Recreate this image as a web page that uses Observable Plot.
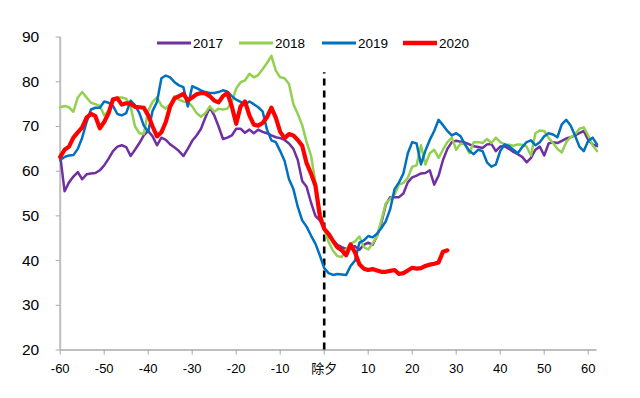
<!DOCTYPE html>
<html>
<head>
<meta charset="utf-8">
<script src="https://cdn.jsdelivr.net/npm/d3@7"></script>
<script src="https://cdn.jsdelivr.net/npm/@observablehq/plot@0.6"></script>
<style>
  html, body { margin: 0; padding: 0; background: #fff; }
  #wrap { position: relative; width: 640px; height: 398px; overflow: hidden; }
  #legend { position: absolute; left: 0; top: 0; }
  svg { display: block; }
</style>
</head>
<body>
<div id="wrap"><div id="chart"></div><svg id="legend" width="640" height="60"></svg></div>
<script>
// ---- data (days relative to 除夕) ----
const days = d3.range(-60, 63);          // -60 … 62
const days2020 = d3.range(-60, 29);      // -60 … 28

const v2017 = [
  63.5, 55.5, 57.5, 58.8, 59.8, 58.2, 59.3, 59.5, 59.6, 60.2,
  61.3, 62.8, 64.5, 65.5, 65.8, 65.4, 63.4, 64.8, 66.3, 68.0,
  69.0, 67.8, 65.8, 67.5, 67.0, 66.0, 65.3, 64.5, 63.4, 65.0,
  66.8, 68.0, 69.5, 72.0, 74.3, 72.5, 70.0, 67.2, 67.5, 68.0,
  69.5, 69.5, 68.6, 69.3, 68.5, 69.3, 68.8, 68.5, 68.0, 67.6,
  67.4, 67.0, 66.2, 65.0, 62.5, 57.8, 56.5, 53.0, 50.0, 49.0,
  47.2, 45.5, 44.5, 43.5, 43.0, 42.6, 43.0, 43.2, 42.4, 43.5,
  44.0, 43.5, 45.5, 48.5, 52.5, 54.2, 54.2, 54.2, 55.0, 57.5,
  58.6, 59.0, 59.5, 59.6, 60.2, 57.0, 59.0, 62.5, 65.0, 66.5,
  66.8, 66.6, 66.4, 66.0, 65.6, 65.4, 65.2, 66.0, 66.1, 64.5,
  65.5, 65.6, 65.0, 64.3, 63.8, 63.2, 62.0, 63.0, 64.8, 65.5,
  63.5, 66.2, 66.5, 66.3, 66.8, 67.3, 67.6, 68.0, 68.5, 69.0,
  67.0, 66.0, 65.6
];
const v2018 = [
  74.3, 74.6, 74.3, 73.3, 76.5, 77.7, 76.5, 75.3, 75.0, 74.6,
  72.5, 73.5, 75.5, 76.5, 76.5, 76.2, 74.5, 70.0, 68.5, 68.3,
  73.5, 75.5, 76.5, 74.7, 74.0, 75.0, 76.8, 76.0, 75.6, 75.5,
  74.5, 73.0, 72.2, 73.0, 74.5, 73.3, 74.0, 73.8, 74.0, 75.5,
  78.5, 79.9, 80.3, 81.8, 81.0, 81.5, 82.8, 84.2, 85.8, 82.5,
  81.0, 80.8, 79.5, 75.0, 72.8, 70.3, 66.5, 63.5, 57.5, 51.5,
  47.0, 44.2, 42.2, 41.0, 40.8, 42.5, 43.8, 44.3, 45.4, 43.0,
  42.5, 43.8, 45.5, 49.0, 52.8, 53.8, 54.8, 57.0, 57.4, 58.5,
  61.0, 61.3, 65.8, 61.5, 64.0, 64.8, 63.0, 64.8, 66.5, 67.5,
  64.8, 66.2, 66.0, 64.0, 66.5, 66.5, 66.3, 67.2, 66.3, 67.5,
  66.5, 66.0, 65.9, 65.7, 66.0, 65.9, 65.5, 63.5, 68.5, 69.1,
  69.0, 67.5, 66.3, 65.0, 64.2, 66.5, 67.6, 68.2, 69.5, 69.8,
  68.0, 65.8, 64.5
];
const v2019 = [
  62.5, 63.2, 63.5, 63.6, 65.0, 67.5, 71.0, 73.8, 74.2, 74.2,
  75.6, 75.3, 74.6, 72.8, 72.5, 73.0, 75.8, 74.8, 73.0, 70.2,
  68.8, 73.5, 75.5, 80.8, 81.4, 81.0, 79.9, 79.2, 78.8, 74.5,
  79.0, 78.6, 78.1, 77.7, 77.5, 77.5, 77.7, 78.1, 77.8, 76.8,
  76.0, 75.5, 74.9, 75.6, 75.0, 74.3, 73.4, 69.3, 66.9, 66.5,
  64.5, 62.3, 58.2, 56.0, 52.0, 49.0, 47.6, 45.6, 43.8, 41.2,
  38.3, 37.2, 36.8, 37.0, 36.9, 36.8, 38.8, 40.0, 44.0, 44.5,
  45.5, 45.2, 46.0, 47.3, 48.8, 51.5, 56.0, 57.5, 59.5, 64.0,
  66.5, 66.2, 61.5, 64.6, 67.0, 69.0, 71.5, 70.3, 69.0, 68.0,
  68.5, 67.8, 66.0, 64.5, 63.8, 64.8, 64.5, 62.0, 61.0, 61.5,
  64.5, 66.0, 65.6, 64.8, 64.0, 65.4, 66.5, 66.9, 65.8, 66.5,
  67.8, 68.5, 68.2, 67.6, 70.5, 71.5, 70.2, 68.0, 65.5, 64.5,
  66.8, 67.5, 66.0
];
const v2020 = [
  63.2, 64.8, 65.5, 67.5, 68.7, 69.8, 72.0, 72.8, 72.3, 69.6,
  71.0, 73.0, 76.1, 76.3, 74.9, 75.2, 75.1, 74.4, 74.3, 74.2,
  72.5, 70.0, 67.8, 68.7, 71.0, 74.5, 76.3, 76.8, 77.3, 75.8,
  76.5, 77.2, 77.5, 77.4, 76.8, 75.8, 75.4, 76.8, 77.5, 74.5,
  70.6, 74.5, 75.6, 72.5, 70.4, 70.2, 70.8, 72.1, 74.2, 72.0,
  68.8, 67.4, 68.3, 68.0, 67.0, 65.7, 61.8, 59.5, 56.8, 50.0,
  47.1, 46.0, 44.4, 43.0, 42.3, 41.2, 43.6, 41.8, 39.2, 38.2,
  37.9, 38.1, 37.8, 37.5, 37.5, 37.7, 37.9, 37.0, 37.2, 37.8,
  38.4, 38.2, 38.3, 38.8, 39.1, 39.3, 39.6, 42.0, 42.3
];

const xTicks = [-60, -50, -40, -30, -20, -10, 0, 10, 20, 30, 40, 50, 60];
const yTicks = [20, 30, 40, 50, 60, 70, 80, 90];
const zeroLabel = "除夕";

const seriesNames = ["2017", "2018", "2019", "2020"];
const seriesColors = ["#7030A0", "#92D050", "#0070C0", "#FF0000"];
const seriesWidths = [2.5, 2.5, 2.5, 4.2];
const seriesDays = [days, days, days, days2020];
const seriesValues = [v2017, v2018, v2019, v2020];

const tables = seriesValues.map((vals, i) =>
  vals.map((v, j) => ({ day: seriesDays[i][j], value: v, year: seriesNames[i] }))
);

const font = "'Liberation Sans', Arial, 'Noto Sans CJK SC', sans-serif";

const chart = Plot.plot({
  width: 640,
  height: 398,
  marginLeft: 59.7,
  marginRight: 43.5,
  marginTop: 36.6,
  marginBottom: 48.5,
  style: { fontFamily: font, background: "#fff", color: "#000" },
  x: { domain: [-60, 62] },
  y: { domain: [20, 90] },
  marks: [
    Plot.ruleX([-60], { stroke: "#bfbfbf", strokeWidth: 2 }),
    Plot.ruleY([20], { stroke: "#bfbfbf", strokeWidth: 2 }),
    Plot.axisY({ ticks: yTicks, tickSize: 4, tickPadding: 17, stroke: "#a6a6a6",
                 fill: "#000", fontSize: 15.5, label: null }),
    Plot.axisX({ ticks: xTicks, tickSize: 5, tickPadding: 9, stroke: "#a6a6a6",
                 fill: "#000", fontSize: 13, label: null,
                 tickFormat: d => d === 0 ? zeroLabel : String(d) }),
    Plot.ruleX([0], { y1: 20, y2: 82, stroke: "#000", strokeWidth: 2.6, strokeDasharray: "7,5" }),
    ...tables.map((t, i) => Plot.line(t, {
      x: "day", y: "value", stroke: seriesColors[i], strokeWidth: seriesWidths[i],
      strokeLinejoin: "round", strokeLinecap: "round"
    }))
  ]
});
document.getElementById("chart").appendChild(chart);

// ---- legend overlay ----
const legend = d3.select("#legend");
const legX = [157, 239, 322, 403];
seriesNames.forEach((name, i) => {
  legend.append("line")
    .attr("x1", legX[i]).attr("x2", legX[i] + 34)
    .attr("y1", 43).attr("y2", 43)
    .attr("stroke", seriesColors[i]).attr("stroke-width", i === 3 ? 4.5 : 3);
  legend.append("text")
    .attr("x", legX[i] + 36).attr("y", 48)
    .attr("font-family", font).attr("font-size", 13.5).attr("fill", "#000")
    .text(name);
});
</script>
</body>
</html>
